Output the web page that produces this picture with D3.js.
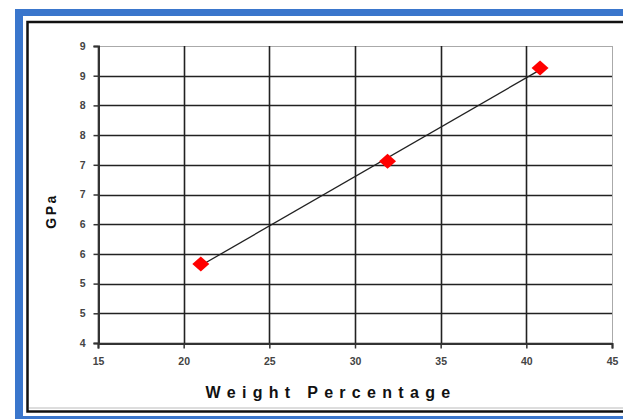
<!DOCTYPE html>
<html>
<head>
<meta charset="utf-8">
<script src="https://cdn.jsdelivr.net/npm/d3@7/dist/d3.min.js"></script>
<style>
  html, body { margin: 0; padding: 0; background: #fff; overflow: hidden; }
  svg { display: block; }
</style>
</head>
<body>
<svg id="chart" width="623" height="419"></svg>
<script>
// ---- data ----
const weightPct = [21.0, 31.9, 40.8];
const gpaValues = [5.33, 7.06, 8.63];
const xTicks = [15, 20, 25, 30, 35, 40, 45];
const yTicks = [4, 4.5, 5, 5.5, 6, 6.5, 7, 7.5, 8, 8.5, 9];
const yTickLabels = ["4", "5", "5", "6", "6", "7", "7", "8", "8", "9", "9"];
const xTitle = "Weight Percentage";
const yTitle = "GPa";

const svg = d3.select("#chart");
const W = 623, H = 419;

// frame: blue window border + black inner border
svg.append("rect").attr("x", 15).attr("y", 9).attr("width", W).attr("height", H).attr("fill", "#3a76cc");
svg.append("rect").attr("x", 23).attr("y", 16).attr("width", W + 20).attr("height", 400).attr("fill", "#fff");
svg.append("rect").attr("x", 27.5).attr("y", 22).attr("width", W + 20).attr("height", 389.5)
  .attr("fill", "#fff").attr("stroke", "#111").attr("stroke-width", 2.5);
svg.append("line").attr("x1", 29).attr("x2", W).attr("y1", 408).attr("y2", 408).attr("stroke", "#bbb").attr("stroke-width", 1);

// scales
const x = d3.scaleLinear().domain([15, 45]).range([98, 612]);
const y = d3.scaleLinear().domain([4, 9]).range([343, 46]);

const g = svg.append("g");

// horizontal gridlines
g.selectAll("line.hgrid").data(yTicks).join("line")
  .attr("class", "hgrid")
  .attr("x1", x(15)).attr("x2", x(45))
  .attr("y1", d => Math.round(y(d)) + 0.5).attr("y2", d => Math.round(y(d)) + 0.5)
  .attr("stroke", d => d === 9 ? "#aaa" : "#222")
  .attr("stroke-width", d => d === 9 ? 1 : 1.6);

// vertical gridlines
g.selectAll("line.vgrid").data(xTicks).join("line")
  .attr("class", "vgrid")
  .attr("x1", d => Math.round(x(d)) + 0.5).attr("x2", d => Math.round(x(d)) + 0.5)
  .attr("y1", y(9)).attr("y2", y(4))
  .attr("stroke", d => d === 45 ? "#aaa" : "#222")
  .attr("stroke-width", d => d === 45 ? 1 : 1.6);

// axes with library
const yAxis = d3.axisLeft(y).tickValues(yTicks).tickSize(5).tickPadding(8)
  .tickFormat((d, i) => yTickLabels[i]);
const xAxis = d3.axisBottom(x).tickValues(xTicks).tickSize(5).tickPadding(9)
  .tickFormat(d3.format("d"));

const ya = svg.append("g").attr("transform", `translate(${Math.round(x(15)) + 0.5},0)`).call(yAxis);
const xa = svg.append("g").attr("transform", `translate(0,${Math.round(y(4)) + 0.5})`).call(xAxis);

[ya, xa].forEach(a => {
  a.select(".domain").attr("stroke", "#333").attr("stroke-width", 2);
  a.selectAll(".tick line").attr("stroke", "#333").attr("stroke-width", 1.5);
  a.selectAll(".tick text")
    .attr("font-family", "Arial, 'Liberation Sans', sans-serif")
    .attr("font-size", 10.5).attr("font-weight", "bold").attr("fill", "#444");
});

// trendline (least squares from the data)
const mx = d3.mean(weightPct), my = d3.mean(gpaValues);
const sxy = d3.sum(weightPct, (v, i) => (v - mx) * (gpaValues[i] - my));
const sxx = d3.sum(weightPct, v => (v - mx) * (v - mx));
const slope = sxy / sxx, intercept = my - slope * mx;
const xMin = d3.min(weightPct), xMax = d3.max(weightPct);
const trend = [[xMin, intercept + slope * xMin], [xMax, intercept + slope * xMax]];
svg.append("path")
  .attr("d", d3.line().x(d => x(d[0])).y(d => y(d[1]))(trend))
  .attr("fill", "none").attr("stroke", "#222").attr("stroke-width", 1.3);

// markers: red diamonds
const pts = weightPct.map((v, i) => [v, gpaValues[i]]);
svg.selectAll("path.pt").data(pts).join("path")
  .attr("class", "pt")
  .attr("transform", d => `translate(${x(d[0])},${y(d[1])})`)
  .attr("d", "M0,-7.5L8.5,0L0,7.5L-8.5,0Z")
  .attr("fill", "#ff0000");

// axis titles
svg.append("text")
  .attr("x", 331).attr("y", 398)
  .attr("text-anchor", "middle")
  .attr("font-family", "Arial, 'Liberation Sans', sans-serif")
  .attr("font-size", 16).attr("font-weight", "bold")
  .attr("letter-spacing", "6.3px")
  .attr("fill", "#111")
  .text(xTitle);

svg.append("text")
  .attr("transform", "translate(56,211) rotate(-90)")
  .attr("text-anchor", "middle")
  .attr("font-family", "Arial, 'Liberation Sans', sans-serif")
  .attr("font-size", 14).attr("font-weight", "bold")
  .attr("letter-spacing", "2.5px")
  .attr("fill", "#111")
  .text(yTitle);
</script>
</body>
</html>
